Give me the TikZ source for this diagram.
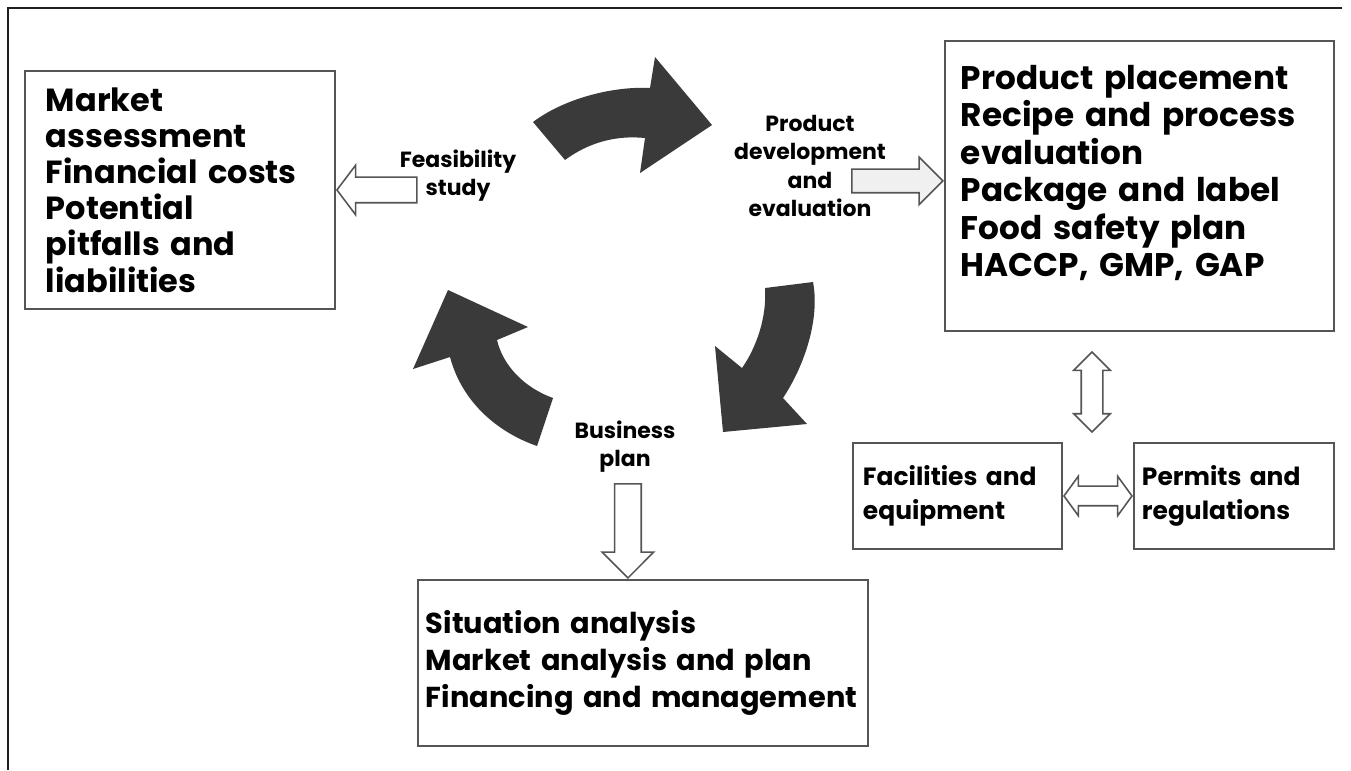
\documentclass[tikz,border=0pt]{standalone}
\usepackage{fontspec}
\setmainfont{Poppins}
\usepackage{xcolor}
\usepackage{tikz}
\usetikzlibrary{calc}
\usetikzlibrary{shapes.arrows}
\definecolor{cyclegray}{RGB}{58,58,58}
\definecolor{boxgray}{RGB}{85,85,85}
\definecolor{framegray}{RGB}{35,31,32}

\begin{document}
\begin{tikzpicture}[x=0.2mm,y=-0.2mm]
%
\tikzstyle{box}=[draw=boxgray,line width=1.1pt,shape=rectangle,anchor=north west,align=left,inner ysep=0pt]
\tikzstyle{lbl}=[align=center,font=\bfseries\fontsize{12.5}{16}\selectfont]
\tikzstyle{hollow}=[draw=boxgray,line width=0.9pt,fill=white]
\tikzstyle{turn}=[fill=cyclegray]
%
\useasboundingbox (0,0) rectangle (1351,770);
\draw[line width=1.7pt,color=framegray] (1342,8) -- (8,8) -- (8,770);
%
% boxes
\node[box,font=\bfseries\fontsize{18.2}{20.6}\selectfont,text width=53.6mm,inner xsep=4.2mm,minimum width=62mm,minimum height=47.6mm](market) at (24,70){Market\\assessment\\Financial costs\\Potential\\pitfalls and\\liabilities};
\node[box,font=\bfseries\fontsize{18.6}{21.3}\selectfont,text width=71.4mm,inner xsep=3.2mm,minimum width=77.8mm,minimum height=58mm](placement) at (944,40){Product placement\\Recipe and process\\evaluation\\Package and label\\Food safety plan\\HACCP, GMP, GAP\\[-4pt]\mbox{}};
\node[box,font=\bfseries\fontsize{16.4}{21.3}\selectfont,text width=86.8mm,inner xsep=1.6mm,minimum width=90mm,minimum height=33.2mm](plan) at (417,579){Situation analysis\\Market analysis and plan\\Financing and management};
\node[box,font=\bfseries\fontsize{14.2}{19.3}\selectfont,text width=37.8mm,inner xsep=2mm,minimum width=41.8mm,minimum height=21.2mm](facilities) at (852,442){Facilities and\\equipment};
\node[box,font=\bfseries\fontsize{14.2}{19.3}\selectfont,text width=36.8mm,inner xsep=1.6mm,minimum width=40mm,minimum height=21.2mm](permits) at (1133,442){Permits and\\regulations};
%
% cycle labels
\node[lbl](feas) at (458,176){Feasibility\\study};
\node[lbl](devel) at (810,166){Product\\development\\and\\evaluation};
\node[lbl](biz) at (625,447){Business\\plan};
%
% hollow arrows
\node[hollow,single arrow,shape border rotate=180,anchor=tip,inner sep=2.4mm,minimum height=16mm,minimum width=9.6mm,single arrow head extend=2.4mm,single arrow tip angle=106](feasarr) at (market.east){};
\node[hollow,fill=gray!12,single arrow,anchor=tip,inner sep=2.2mm,minimum height=18.2mm,minimum width=9.2mm,single arrow head extend=2.4mm](develarr) at ([yshift=1mm]placement.west){};
\node[hollow,single arrow,shape border rotate=270,anchor=tip,inner sep=2.5mm,minimum height=18.8mm,minimum width=10mm,single arrow head extend=2.5mm](bizarr) at ([xshift=-3mm]plan.north){};
\node[hollow,double arrow,shape border rotate=90,inner sep=2mm,minimum height=16mm,minimum width=7mm,double arrow head extend=1.5mm](linkv) at (1092,392){};
\node[hollow,double arrow,inner sep=1.8mm,minimum height=13.6mm,minimum width=7.6mm,double arrow head extend=2mm,double arrow tip angle=108](linkh) at ($(facilities.east)!0.5!(permits.west)$){};
%
% dark cycle arrows
\fill[turn] (533,122) .. controls (562,100) and (610,86) .. (650,88) -- (655,57) -- (712,125) -- (640,173) -- (645,138) .. controls (615,135) and (588,143) .. (565,160) -- cycle;
\fill[turn] (813,282) .. controls (820,318) and (805,365) .. (783,398) -- (807,424) -- (723,432) -- (715,346) -- (742,368) .. controls (756,348) and (767,318) .. (765,288) -- cycle;
\fill[turn] (537,446) .. controls (497,432) and (462,402) .. (450,357) -- (413,369) -- (448,290) -- (528,327) -- (497,340) .. controls (503,366) and (525,388) .. (553,398) -- cycle;
\end{tikzpicture}
\end{document}
